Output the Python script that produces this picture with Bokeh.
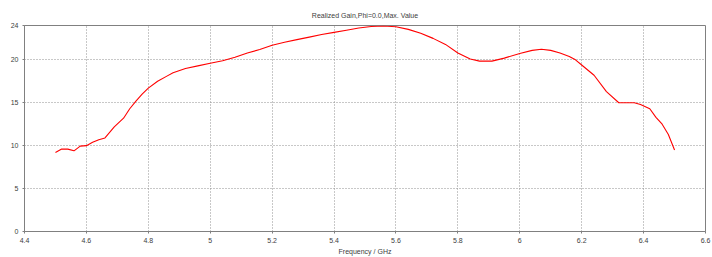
from bokeh.plotting import figure
from bokeh.models import FixedTicker, Range1d, Title
from bokeh.embed import file_html
from bokeh.resources import INLINE

freq_ghz = [4.50, 4.52, 4.54, 4.56, 4.58, 4.60, 4.62, 4.64, 4.66, 4.69, 4.72, 4.74,
            4.76, 4.78, 4.80, 4.83, 4.86, 4.88, 4.92, 4.96, 5.00, 5.04, 5.08, 5.12,
            5.16, 5.20, 5.24, 5.28, 5.32, 5.36, 5.40, 5.44, 5.48, 5.52, 5.56, 5.60,
            5.64, 5.68, 5.72, 5.76, 5.80, 5.84, 5.87, 5.91, 5.95, 6.00, 6.04, 6.07,
            6.10, 6.13, 6.16, 6.18, 6.20, 6.24, 6.28, 6.32, 6.37, 6.39, 6.42, 6.44,
            6.46, 6.48, 6.50]
gain_db = [9.2, 9.6, 9.6, 9.4, 9.95, 10.0, 10.4, 10.7, 10.9, 12.2, 13.2, 14.3,
           15.2, 16.0, 16.7, 17.5, 18.1, 18.5, 19.0, 19.3, 19.6, 19.9, 20.3, 20.8,
           21.2, 21.7, 22.05, 22.35, 22.65, 22.95, 23.2, 23.45, 23.7, 23.88, 23.95, 23.85,
           23.55, 23.1, 22.5, 21.8, 20.8, 20.1, 19.85, 19.85, 20.2, 20.74, 21.1, 21.24,
           21.1, 20.8, 20.4, 20.0, 19.4, 18.2, 16.3, 15.0, 15.0, 14.8, 14.3, 13.3,
           12.5, 11.3, 9.5]

x_ticks = [4.4, 4.6, 4.8, 5.0, 5.2, 5.4, 5.6, 5.8, 6.0, 6.2, 6.4, 6.6]
x_tick_labels = ["4.4", "4.6", "4.8", "5", "5.2", "5.4", "5.6", "5.8", "6", "6.2", "6.4", "6.6"]
y_ticks = [0, 5, 10, 15, 20, 24]

title_text = "Realized Gain,Phi=0.0,Max. Value"
x_label = "Frequency / GHz"

FONT = "Liberation Sans"
TXT = "#404040"
FRAME = "#808080"

p = figure(width=712, height=257, output_backend="svg", toolbar_location=None,
           x_range=Range1d(4.4, 6.6), y_range=Range1d(0, 24),
           min_border_left=24, min_border_right=7, min_border_top=25, min_border_bottom=26)

p.title = Title(text=title_text, align="center", text_font=FONT, text_font_size="7px",
                text_font_style="normal", text_color=TXT, offset=0, standoff=13)

p.line(freq_ghz, gain_db, line_color="#ff0000", line_width=1.1)

p.xaxis.ticker = FixedTicker(ticks=x_ticks)
p.xaxis.major_label_overrides = {t: l for t, l in zip(x_ticks, x_tick_labels)}
p.yaxis.ticker = FixedTicker(ticks=y_ticks)
p.xaxis.axis_label = x_label

for ax in (p.xaxis, p.yaxis):
    ax.axis_line_color = FRAME
    ax.major_tick_line_color = FRAME
    ax.major_tick_out = 2
    ax.major_tick_in = 0
    ax.minor_tick_line_color = None
    ax.major_label_text_font = FONT
    ax.major_label_text_font_size = "7px"
    ax.major_label_text_color = TXT
    ax.major_label_standoff = 4

p.xaxis.axis_label_text_font = FONT
p.xaxis.axis_label_text_font_size = "7px"
p.xaxis.axis_label_text_font_style = "normal"
p.xaxis.axis_label_text_color = TXT
p.xaxis.axis_label_standoff = 2

p.outline_line_color = FRAME
p.outline_line_width = 1

for g in (p.xgrid, p.ygrid):
    g.grid_line_color = "#909090"
    g.grid_line_dash = "1 2"
    g.grid_line_width = 1

p.background_fill_color = "white"
p.border_fill_color = "white"

open("out.html", "w").write(file_html(p, INLINE))
